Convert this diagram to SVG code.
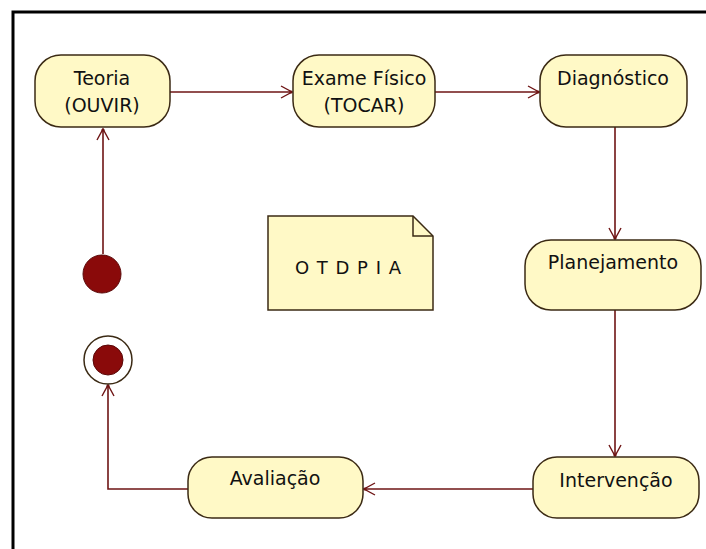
<svg xmlns="http://www.w3.org/2000/svg" width="706" height="549" viewBox="0 0 706 549">
  <defs>
    <style>
      .state { fill: #fff9c6; stroke: #3b2a14; stroke-width: 1.5; }
      .label { font-family: "DejaVu Sans", "Liberation Sans", sans-serif; font-size: 19px; fill: #111; text-anchor: middle; }
      .flow { fill: none; stroke: #6e1414; stroke-width: 1.6; }
      .dot { fill: #8a0a0a; stroke: #5a0808; stroke-width: 1; }
    </style>
    <marker id="open" viewBox="-12 -7 14 14" markerWidth="14" markerHeight="14" refX="0" refY="0" orient="auto" markerUnits="userSpaceOnUse">
      <path d="M-11,-6 L0,0 L-11,6" fill="none" stroke="#6e1414" stroke-width="1.4"/>
      <circle cx="-1" cy="0" r="1.6" fill="#6e1414"/>
    </marker>
  </defs>

  <rect width="706" height="549" fill="#ffffff"/>
  <!-- frame -->
  <path d="M13,549 V12 H706" fill="none" stroke="#000" stroke-width="3"/>

  <g id="connectors">
    <path class="flow" d="M103,254 V129" marker-end="url(#open)"/>
    <path class="flow" d="M170,92 H292" marker-end="url(#open)"/>
    <path class="flow" d="M435,92 H539" marker-end="url(#open)"/>
    <path class="flow" d="M615,127 V239" marker-end="url(#open)"/>
    <path class="flow" d="M615,310 V456" marker-end="url(#open)"/>
    <path class="flow" d="M533,489 H364" marker-end="url(#open)"/>
    <path class="flow" d="M188,489 H108 V385" marker-end="url(#open)"/>
  </g>

  <g id="teoria">
    <rect class="state" x="35" y="55" width="135" height="72" rx="26"/>
    <text class="label" x="102" y="85">Teoria</text>
    <text class="label" x="102" y="112">(OUVIR)</text>
  </g>

  <g id="exame-fisico">
    <rect class="state" x="293" y="55" width="142" height="72" rx="26"/>
    <text class="label" x="364" y="85">Exame Físico</text>
    <text class="label" x="364" y="112">(TOCAR)</text>
  </g>

  <g id="diagnostico">
    <rect class="state" x="540" y="55" width="147" height="72" rx="26"/>
    <text class="label" x="613" y="85">Diagnóstico</text>
  </g>

  <g id="planejamento">
    <rect class="state" x="525" y="240" width="176" height="70" rx="26"/>
    <text class="label" x="613" y="269">Planejamento</text>
  </g>

  <g id="intervencao">
    <rect class="state" x="533" y="457" width="166" height="61" rx="24"/>
    <text class="label" x="616" y="487">Intervenção</text>
  </g>

  <g id="avaliacao">
    <rect class="state" x="188" y="457" width="175" height="61" rx="24"/>
    <text class="label" x="275" y="485">Avaliação</text>
  </g>

  <g id="inicio">
    <circle class="dot" cx="102" cy="274" r="19"/>
  </g>

  <g id="fim">
    <circle cx="108" cy="360" r="24" fill="#fff" stroke="#3b2a14" stroke-width="1.5"/>
    <circle class="dot" cx="108" cy="360" r="15"/>
  </g>

  <g id="nota">
    <path class="state" d="M268,216 H413 L433,236 V310 H268 Z"/>
    <path d="M413,216 V236 H433" fill="none" stroke="#3b2a14" stroke-width="1.5"/>
    <text x="348" y="274" text-anchor="middle" textLength="106" lengthAdjust="spacing" style="font-family: 'DejaVu Sans', 'Liberation Sans', sans-serif; font-size: 18px; fill: #111;">OTDPIA</text>
  </g>
</svg>
